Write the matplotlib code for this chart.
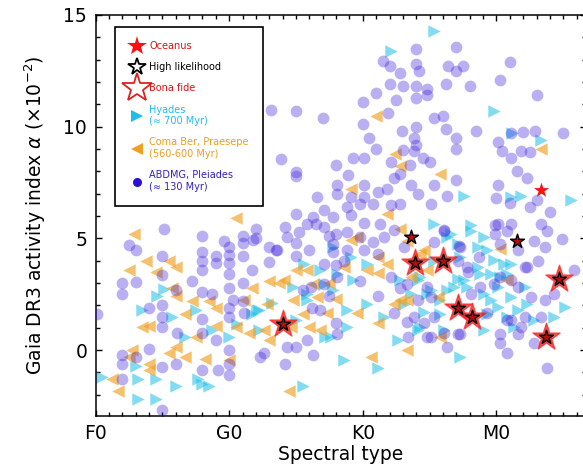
import matplotlib
matplotlib.use("Agg")
import matplotlib.pyplot as plt
from matplotlib.lines import Line2D
from matplotlib.ticker import MultipleLocator

# spectral type index: F0 = 0, G0 = 10, K0 = 20, M0 = 30
spt_ticks = [0, 10, 20, 30]
spt_labels = ["F0", "G0", "K0", "M0"]

# ABDMG, Pleiades (~130 Myr)
young_x = [24.0, 27.0, 21.5, 22.0, 24.0, 24.2, 22.8, 26.4, 27.0, 27.5, 31.0, 30.3, 22.0, 23.0,
           24.0, 24.8, 26.2, 28.0, 33.0, 21.0, 20.0, 22.5, 24.0, 24.8, 21.9, 25.3, 26.0, 20.0,
           24.0, 22.9, 26.2, 28.5, 20.5, 23.8, 27.0, 30.1, 31.1, 32.0, 32.9, 35.0, 24.0, 21.0,
           23.0, 27.0, 19.3, 20.1, 22.1, 23.8, 24.5, 25.0, 30.4, 31.1, 31.8, 32.5, 18.0, 23.5,
           27.0, 31.5, 32.3, 30.1, 30.0, 31.0, 32.5, 34.0, 33.0,
           13.1, 15.0, 17.0, 13.9, 15.0, 15.0,
           5.1, 2.5, 3.0, 5.0, 8.0, 8.0, 8.0, 8.0, 9.0, 9.0, 9.6, 10.0, 10.0, 10.0, 10.0, 11.0,
           11.0, 12.0, 12.0, 11.7, 11.0, 13.0, 13.5, 13.0, 14.2, 15.0, 15.0, 15.0, 16.0, 16.5,
           17.5, 18.0, 18.0, 15.2, 2.0, 2.0, 3.0, 5.0, 5.0, 5.0, 5.0, 4.0, 6.0, 7.2, 8.0, 8.0,
           8.0, 8.7, 10.0, 10.0, 10.0, 11.0, 11.0, 9.0, 6.1, 4.0, 5.0, 6.0, 2.0, 2.0, 2.0, 3.0,
           8.0, 9.2, 10.0, 10.0, 10.0, 12.3, 14.2, 15.0, 16.3, 5.0, 15.5, 16.2, 17.5, 18.0, 0.1,
           18.9, 20.1, 18.1, 18.1, 16.6, 19.1, 20.1, 21.1, 21.8, 22.3, 22.8, 23.6, 24.1, 25.1,
           22.8, 22.1, 20.8, 19.8, 18.8, 17.1, 16.3, 17.8, 19.1, 20.1, 21.3, 22.3, 21.6, 20.8,
           19.8, 18.8, 17.1, 15.8, 17.8, 18.6, 20.1, 21.1, 23.1, 25.3, 26.1, 26.3, 25.3, 22.1,
           22.8, 21.1, 19.8, 18.1, 17.1, 16.1, 16.8, 22.3, 23.3, 24.6, 25.3, 25.1, 26.1, 24.1,
           24.8,
           30.1, 30.8, 30.3, 31.6, 32.8, 33.6, 34.9, 35.8, 33.1, 32.1, 30.3, 31.6, 32.6, 33.6,
           34.3, 32.1, 33.3, 30.8, 30.3, 31.6, 32.8, 30.8, 27.3, 27.8, 28.8, 29.3, 27.3, 26.3,
           28.1, 27.1, 31.1, 33.3, 33.8, 33.8, 23.4,
           26.1, 29.9, 29.9, 27.2, 28.7, 27.9, 29.8, 31.1, 32.3, 23.3, 25.1, 23.8, 31.1, 24.8,
           27.1, 31.8, 30.3,
           11.8, 14.3, 17.8, 18.8, 17.1, 10.3, 11.1, 15.8, 14.3, 18.1, 12.6, 13.6]
young_y = [13.5, 13.55, 12.95, 12.7, 12.8, 12.5, 12.4, 12.7, 12.5, 12.7, 12.9, 12.1, 11.9, 11.8,
           11.8, 11.7, 11.9, 11.8, 11.4, 11.5, 11.1, 11.2, 11.3, 11.4, 10.6, 10.4, 10.5, 10.1,
           9.97, 9.8, 9.9, 9.8, 9.5, 9.5, 9.5, 9.3, 9.7, 9.75, 9.8, 9.7, 9.2, 9.0,
           8.96, 9.0, 8.6, 8.6, 8.4, 8.9, 8.6, 8.4, 8.9, 8.6, 8.9, 8.85, 8.3, 8.3,
           7.6, 8.0, 7.7, 7.4, 6.8, 6.6, 6.4, 6.2, 6.7,
           10.75, 10.7, 10.4, 8.56, 7.96, 7.8,
           5.4, 4.7, 4.5, 4.2, 5.1, 4.4, 4.0, 3.6, 4.2, 3.9, 4.9, 4.6, 4.25, 3.9, 3.4, 5.1,
           4.8, 5.4, 5.0, 3.6, 4.2, 4.6, 4.5, 3.95, 5.5, 6.1, 4.8, 4.2, 4.5, 5.65,
           5.1, 5.2, 3.8, 5.3, 3.0, 2.5, 3.05, 3.35, 2.0, 1.5, 1.05, 1.9, 2.7, 3.1, 2.6, 1.4,
           0.75, 2.5, 2.8, 1.9, 1.5, 3.0, 2.2, 0.45, 0.75, 0.05, -0.74, -0.6, -0.2, -0.6, -1.3, -0.3,
           -0.9, -0.9, 0.0, -0.6, -1.1, -0.3, -0.6, 0.15, -0.2, -2.7, 2.7, 1.9, 2.4, 1.2, 1.6,
           7.86, 7.4, 7.4, 6.97, 6.85, 6.85, 6.85, 7.07, 7.2, 7.7, 7.9, 7.4, 7.0, 6.55,
           6.55, 6.48, 6.55, 6.55, 6.4, 6.25, 5.96, 5.96, 6.03, 5.7, 5.66, 5.36, 5.06, 4.84,
           5.06, 5.29, 5.5, 5.66, 4.4, 4.0, 4.47, 4.32, 4.6, 4.84, 5.36, 6.9, 7.4, 3.28,
           2.8, 2.4, 3.1, 3.28, 2.98, 2.83, 1.79, 1.64, 1.27, 1.2, 1.5, 0.6, 0.75, 2.24,
           2.83,
           5.65, 5.35, 4.76, 4.46, 4.9, 4.6, 4.98, 3.57, 4.0, 3.72, 3.27, 2.83, 2.38, 2.23,
           2.53, 1.49, 1.49, 1.34, 0.74, 0.74, 0.3, -0.15, 4.6, 3.72, 2.83, 1.64, 0.74, 0.15,
           2.53, 4.0, 5.65, 5.65, 5.35, -0.82, 0.6,
           5.35, 5.58, 5.2, 4.68, 4.16, 3.49, 2.97, 3.12, 3.72, 2.97, 2.38, 1.48, 1.34, 0.6,
           0.74, 1.04, 0.3,
           4.91, 5.06, 4.76, 4.47, 3.87, 2.23, 1.64, 0.45, 0.15, 0.74, -0.15, 4.47]

# Hyades (~700 Myr)
hya_x = [25.3, 22.1, 29.8, 31.2, 33.3, 27.6, 31.1, 31.8, 35.6,
         5.1, 4.6, 3.5, 5.7, 7.5, 6.7, 8.7, 10.0, 12.2, 12.2, 13.2, 15.0, 17.2, 18.6, 3.2,
         3.0, 0.5, 4.5, 6.0, 8.0, 8.5, 7.7, 4.5, 3.2, 15.5, 11.7,
         25.3, 26.3, 17.8, 16.8, 19.1, 20.3, 19.3, 22.8, 24.1, 25.1, 25.8, 23.6, 20.3, 17.8,
         18.8, 21.6, 22.6, 24.1, 15.8,
         28.1, 27.1, 28.6, 29.3, 29.8, 30.6, 29.6, 30.8, 28.8, 30.1, 27.6, 26.8, 29.6, 31.1,
         30.1, 32.3, 29.1, 31.3, 32.8, 26.1, 34.3, 35.1, 27.3, 24.6, 21.1,
         26.6, 28.1, 29.1, 28.6, 27.1, 26.3, 27.8, 29.1, 30.3, 31.1, 24.3, 24.8, 23.1, 25.8,
         29.3, 31.6, 24.3, 30.8, 32.1, 25.3, 27.3,
         12.1, 14.8, 15.8, 17.1, 18.1, 10.6, 17.6, 18.8, 15.6]
hya_y = [14.3, 13.4, 10.7, 9.7, 9.4, 6.9, 6.85, 6.9, 6.7,
         2.75, 2.4, 1.8, 1.5, 1.8, 0.6, 0.9, 0.6, 1.8, 0.9, 2.1, 1.35, 0.6, -0.45, -1.3,
         -0.7, -1.2, -1.3, -1.6, -1.5, -1.6, -1.3, -2.2, -2.2, -1.6, 1.6,
         5.66, 5.06, 4.62, 3.58, 4.17, 3.87, 3.13, 3.13, 3.13, 2.68, 2.24, 2.53, 2.08, 2.68,
         1.79, 1.49, 0.45, 0.9, 2.24,
         5.35, 4.76, 4.6, 4.46, 4.02, 3.87, 3.42, 3.42, 3.42, 2.83, 3.12, 2.83, 2.23, 2.38,
         1.93, 2.08, 0.89, 1.04, 1.34, 0.89, 1.49, 1.93, -0.3, 1.71, -0.82,
         5.2, 5.58, 5.06, 3.72, 3.2, 2.68, 2.82, 2.53, 3.27, 3.87, 3.27, 2.53, 2.08, 1.63,
         1.63, 1.78, 1.04, 1.48, 2.82, 4.01, 4.16,
         1.79, 2.83, 2.53, 2.98, 3.42, 1.19, 0.6, 1.04, 3.87]

# Coma Ber, Praesepe (560-600 Myr)
coma_x = [21.0, 22.4, 33.3,
          10.5, 2.9, 3.8, 2.5, 4.5, 5.5, 6.0, 5.7, 6.0, 7.2, 6.7, 4.0, 3.5, 8.5, 9.0, 9.0,
          10.5, 11.5, 11.7, 13.0, 13.7, 13.0, 15.0, 15.5, 16.0, 17.5, 18.0, 2.7, 2.5, 4.0,
          5.5, 6.0, 6.7, 8.2, 10.0, 1.2, 1.7, 4.0, 14.5, 7.5,
          19.1, 22.8, 19.6, 21.8, 21.1, 21.8, 20.3, 18.6, 15.8, 16.3, 21.1, 22.3, 23.3, 17.3,
          19.6, 21.1, 23.3, 23.6, 24.6, 25.6,
          22.8, 25.8, 30.3, 30.8, 24.8, 25.6, 20.6,
          23.3, 24.3, 23.6, 22.8, 25.8,
          11.1, 12.8, 14.8, 16.6, 19.1, 14.6, 12.6, 16.8, 14.1]
coma_y = [10.5, 8.8, 9.0,
          5.9, 5.2, 4.0, 3.6, 3.5, 4.0, 3.7, 2.8, 2.4, 2.2, 1.6, 1.1, 1.05, 2.2, 1.9, 1.1,
          1.05, 0.75, 2.8, 3.1, 3.0, 0.45, 3.6, 1.6, 1.05, 3.0, 2.3, 0.0, -0.3, -0.6,
          -0.15, 0.15, -0.3, -0.4, -0.45, -1.3, -1.85, -0.9, -1.85, 0.6,
          7.2, 5.44, 5.06, 6.1, 4.17, 3.87, 3.58, 3.73, 3.58, 2.98, 3.43, 2.08, 2.24, 1.64,
          1.64, 1.2, 0.0, 4.02, 4.47, 4.02,
          8.26, 7.88, 4.54, 3.12, 3.57, 2.38, -0.3,
          4.9, 4.31, 3.27, 2.23, 0.6,
          2.23, 2.08, 2.23, 2.38, 4.91, 1.04, 0.89, 0.89, 3.13]

# Oceanus members
oceanus_x = [33.3]
oceanus_y = [7.15]
likely_x = [23.6, 31.5]
likely_y = [5.05, 4.9]
bonafide_x = [14.0, 23.9, 26.0, 27.1, 28.2, 34.7, 33.7]
bonafide_y = [1.15, 3.9, 4.0, 1.9, 1.5, 3.2, 0.6]

c_young = "#3a1fd8"
c_hya = "#1ebee6"
c_coma = "#f0a020"

fig = plt.figure(figsize=(5.83, 4.65), dpi=100)
ax = fig.add_axes([95.5 / 583, 49 / 465, 490.5 / 583, 401 / 465])

ax.scatter(hya_x, hya_y, marker=">", s=80, color=c_hya, alpha=0.55, linewidths=0, zorder=2)
ax.scatter(coma_x, coma_y, marker="<", s=80, color=c_coma, alpha=0.65, linewidths=0, zorder=2)
ax.scatter(young_x, young_y, marker="o", s=72, color=c_young, alpha=0.35, linewidths=0, zorder=3)

ax.scatter(bonafide_x, bonafide_y, marker="*", s=420, facecolor="#e02020", edgecolor="#ff2020",
           alpha=0.75, linewidths=1, zorder=4)
ax.scatter(bonafide_x + likely_x, bonafide_y + likely_y, marker="*", s=110, facecolor="#b01010",
           edgecolor="black", linewidths=1, zorder=5)
ax.scatter(oceanus_x, oceanus_y, marker="*", s=130, color="#ff1010", linewidths=0, zorder=5)

ax.set_xlim(0, 36.7)
ax.set_ylim(-2.95, 15)
ax.set_xticks(spt_ticks)
ax.set_xticklabels(spt_labels)
ax.set_yticks([0, 5, 10, 15])
ax.xaxis.set_minor_locator(MultipleLocator(1))
ax.yaxis.set_minor_locator(MultipleLocator(1))
ax.tick_params(which="both", direction="in", top=True, right=True, labelsize=13.5, pad=6)
ax.tick_params(which="major", length=4.5, width=1)
ax.tick_params(which="minor", length=3, width=1)
for sp in ax.spines.values():
    sp.set_linewidth(1.1)

ax.set_xlabel("Spectral type", fontsize=13.5, labelpad=1)
ax.set_ylabel(r"Gaia DR3 activity index $\alpha$ ($\times10^{-2}$)", fontsize=13.5, labelpad=11)

handles = [
    Line2D([], [], ls="none", marker="*", ms=15, color="#ff1010", mew=0),
    Line2D([], [], ls="none", marker="*", ms=13, mfc="white", mec="black", mew=1.3),
    Line2D([], [], ls="none", marker="*", ms=22, mfc="white", mec="#e02020", mew=1.3),
    Line2D([], [], ls="none", marker=">", ms=8, color=c_hya, mew=0),
    Line2D([], [], ls="none", marker="<", ms=8, color=c_coma, mew=0),
    Line2D([], [], ls="none", marker="o", ms=6.5, color="#2a10d0", mew=0),
]
labels = ["Oceanus", "High likelihood", "Bona fide", "Hyades\n(\u2248 700 Myr)",
          "Coma Ber, Praesepe\n(560-600 Myr)", "ABDMG, Pleiades\n(\u2248 130 Myr)"]
text_colors = ["#e01010", "black", "#e01010", "#22bbee", "#e8a020", "#3020c0"]

leg = ax.legend(handles, labels, loc="upper left", bbox_to_anchor=(0.039, 0.970),
                borderaxespad=0, fontsize=7, fancybox=False, framealpha=1,
                edgecolor="black", borderpad=1.45, labelspacing=1.15,
                handlelength=1.6, handletextpad=0.5)
leg.get_frame().set_linewidth(1.2)
leg.set_zorder(10)
for t, c in zip(leg.get_texts(), text_colors):
    t.set_color(c)

fig.savefig("out.png", dpi=100)
